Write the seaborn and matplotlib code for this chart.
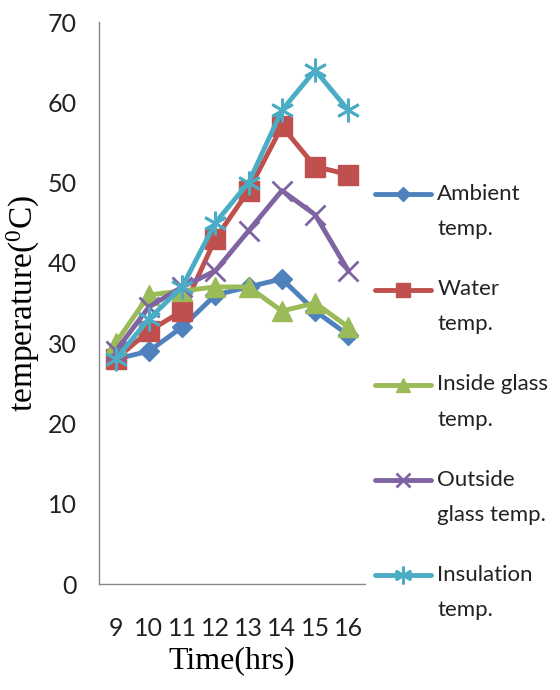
import matplotlib
matplotlib.use("Agg")
import matplotlib.pyplot as plt
import seaborn as sns
import pandas as pd
import numpy as np
from matplotlib.lines import Line2D
from matplotlib.legend_handler import HandlerLine2D

hours = [9, 10, 11, 12, 13, 14, 15, 16]
ambient = [28, 29, 32, 36, 37, 38, 34, 31]
water = [28, 31.5, 34, 43, 49, 57, 52, 51]
inside_glass = [30, 36, 36.5, 37, 37, 34, 35, 32]
outside_glass = [29, 34.5, 37, 39, 44, 49, 46, 39]
insulation = [28, 33, 37, 45, 50, 59, 64, 59]

series_names = ["Ambient\ntemp.", "Water\ntemp.", "Inside glass\ntemp.",
                "Outside\nglass temp.", "Insulation\ntemp."]
series_values = [ambient, water, inside_glass, outside_glass, insulation]
colors = ["#4F81BD", "#C0504D", "#9BBB59", "#8064A2", "#4BACC6"]
markers = ["D", "s", "^", "x", (6, 2, 0)]
msizes = [10, 14, 14, 14, 17]

sns.set_theme(style="white")
plt.rcParams['font.family'] = ['Lato', 'DejaVu Sans']

fig = plt.figure(figsize=(5.6, 6.9), dpi=100)
ax = fig.add_axes([99/560, 1-584/690, (365-99)/560, (584-22)/690])

for name, vals, c, m, ms in zip(series_names, series_values, colors, markers, msizes):
    df = pd.DataFrame({"hour": hours, "temp": vals})
    sns.lineplot(data=df, x="hour", y="temp", ax=ax, color=c, marker=m,
                 markersize=ms, markeredgecolor=c,
                 markeredgewidth=2 if m in ("x", (6, 2, 0)) else 1,
                 linewidth=3.5, label=name)

ax.set_xlim(8.5, 16.5)
ax.set_ylim(0, 70)
ax.set_yticks(range(0, 71, 10))
ax.set_xticks(hours)
ax.set_xticklabels([str(h) for h in hours])
ax.set_xticks(np.arange(8.5, 16.6, 1.0), minor=True)
ax.tick_params(axis="x", which="major", length=0, pad=24, labelsize=18, colors="#222222")
ax.tick_params(axis="x", which="minor", length=7, width=1, color="#888888", direction="out")
ax.tick_params(axis="y", which="major", length=8, width=1, color="#888888", direction="out",
               labelsize=18, pad=8, colors="#222222")
ax.yaxis.set_tick_params(color="#888888")
ax.xaxis.set_tick_params(which="minor", color="#888888")
for s in ["top", "right"]:
    ax.spines[s].set_visible(False)
for s in ["left", "bottom"]:
    ax.spines[s].set_color("#888888")
    ax.spines[s].set_linewidth(1)

ax.set_xlabel("Time(hrs)", family="Liberation Serif", fontsize=23, labelpad=4, color="black")
ax.set_ylabel("temperature($\\mathregular{^0}$C)", family="Liberation Serif", fontsize=24,
              labelpad=4, color="black")


class UpHandler(HandlerLine2D):
    def __init__(self, shift, **kw):
        super().__init__(**kw)
        self.shift = shift

    def create_artists(self, legend, orig_handle, xdescent, ydescent, width, height, fontsize, trans):
        return super().create_artists(legend, orig_handle, xdescent, ydescent - 2 * self.shift,
                                      width, height, fontsize, trans)


handles, labels = ax.get_legend_handles_labels()
leg = fig.legend(handles, labels, loc="center left", bbox_to_anchor=(375/560, 1-402/690),
                 frameon=False, fontsize=16, handlelength=2.5, handletextpad=0.3,
                 labelspacing=1.8, borderpad=0, borderaxespad=0, markerscale=0.75,
                 handler_map={Line2D: UpHandler(12.5)})
for t in leg.get_texts():
    t.set_color("#222222")
    t.set_linespacing(1.95)
if ax.get_legend():
    ax.get_legend().remove()

fig.savefig("out.png", dpi=100)
